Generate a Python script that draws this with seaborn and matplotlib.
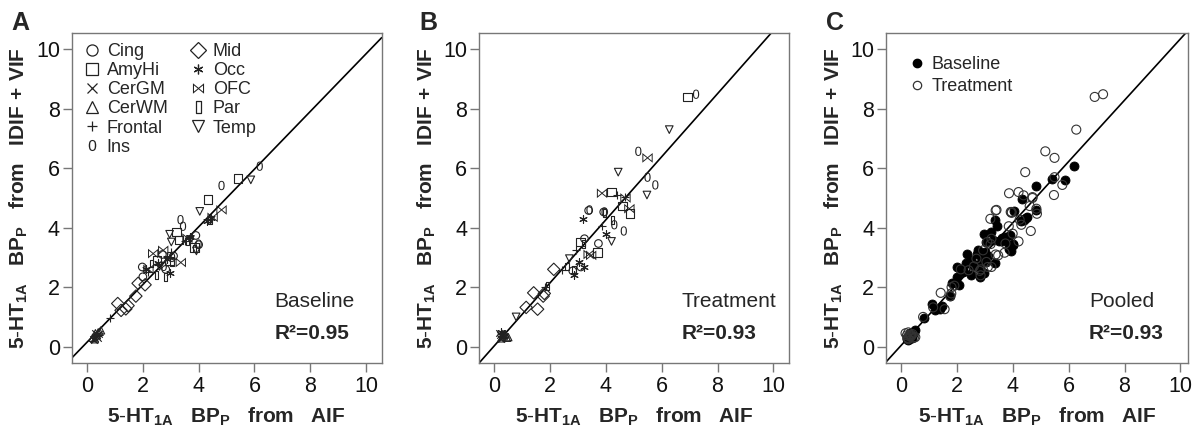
import numpy as np
import pandas as pd
import matplotlib
matplotlib.use("Agg")
import matplotlib.pyplot as plt
import seaborn as sns
from matplotlib.lines import Line2D
from matplotlib.path import Path

# ---------------- data ----------------
regions = ["Cing", "AmyHi", "CerGM", "CerWM", "Frontal", "Ins",
           "Mid", "Occ", "OFC", "Par", "Temp"]

# Baseline scans (panel A): region, BP_P from AIF, BP_P from IDIF+VIF
base_region = (["Cing"] * 7 + ["AmyHi"] * 7 + ["CerGM"] * 7 + ["CerWM"] * 7 +
               ["Frontal"] * 7 + ["Ins"] * 7 + ["Mid"] * 7 + ["Occ"] * 7 +
               ["OFC"] * 7 + ["Par"] * 7 + ["Temp"] * 7)
base_aif = [1.98, 2.00, 2.70, 2.82, 3.10, 3.90, 4.00,
            2.50, 2.95, 3.20, 3.30, 3.86, 4.34, 5.41,
            0.22, 0.25, 0.28, 0.30, 0.35, 0.38, 0.42,
            0.20, 0.28, 0.30, 0.35, 0.40, 0.45, 0.50,
            0.81, 2.20, 2.55, 2.85, 3.00, 3.50, 4.40,
            2.75, 3.05, 3.35, 3.44, 4.00, 4.82, 6.19,
            1.10, 1.22, 1.39, 1.47, 1.75, 1.83, 2.08,
            2.10, 2.55, 2.88, 2.96, 3.70, 4.30, 4.45,
            2.20, 2.37, 2.73, 3.36, 3.60, 4.50, 4.82,
            2.30, 2.49, 2.82, 3.05, 3.60, 3.85, 4.40,
            2.60, 2.96, 3.02, 3.70, 3.92, 4.04, 5.87]
base_idif = [2.68, 2.35, 3.10, 2.60, 3.05, 3.74, 3.43,
             2.92, 2.88, 3.85, 3.58, 3.34, 4.95, 5.65,
             0.25, 0.22, 0.30, 0.45, 0.38, 0.30, 0.42,
             0.30, 0.25, 0.45, 0.38, 0.48, 0.50, 0.55,
             0.98, 2.50, 2.75, 3.05, 3.20, 3.55, 4.30,
             2.70, 3.00, 4.27, 4.05, 3.45, 5.42, 6.07,
             1.45, 1.22, 1.27, 1.38, 1.70, 2.13, 2.08,
             2.62, 2.80, 2.96, 2.47, 3.68, 4.22, 4.32,
             2.60, 3.13, 3.24, 2.83, 3.65, 4.35, 4.60,
             2.80, 2.40, 2.35, 2.85, 3.55, 3.30, 4.25,
             2.70, 3.78, 3.52, 3.60, 3.22, 4.55, 5.61]

# Treatment scans (panel B)
treat_region = (["Cing"] * 6 + ["AmyHi"] * 6 + ["CerGM"] * 6 + ["CerWM"] * 6 +
                ["Frontal"] * 6 + ["Ins"] * 8 + ["Mid"] * 6 + ["Occ"] * 6 +
                ["OFC"] * 6 + ["Par"] * 6 + ["Temp"] * 6)
treat_aif = [2.81, 3.10, 3.23, 3.38, 3.73, 3.92,
             3.08, 3.70, 4.20, 4.60, 4.86, 6.93,
             0.15, 0.20, 0.22, 0.25, 0.30, 0.35,
             0.25, 0.30, 0.35, 0.40, 0.45, 0.50,
             1.80, 2.41, 2.93, 3.85, 4.38, 4.70,
             3.41, 3.95, 4.30, 4.64, 5.16, 5.49, 5.77, 7.23,
             1.14, 1.41, 1.55, 1.75, 1.79, 2.13,
             0.25, 2.84, 3.05, 3.19, 3.23, 3.99,
             3.38, 3.47, 3.86, 4.70, 4.84, 5.49,
             1.90, 2.60, 2.85, 3.20, 3.95, 4.24,
             0.78, 2.69, 4.20, 4.44, 5.47, 6.27]
treat_idif = [2.55, 2.68, 3.63, 4.58, 3.47, 4.53,
              3.52, 3.16, 5.20, 4.73, 4.47, 8.40,
              0.45, 0.38, 0.30, 0.25, 0.40, 0.35,
              0.28, 0.35, 0.40, 0.42, 0.30, 0.32,
              2.00, 2.57, 3.24, 4.05, 5.09, 5.03,
              4.60, 4.53, 4.10, 3.89, 6.57, 5.70, 5.44, 8.49,
              1.32, 1.81, 1.26, 1.70, 1.79, 2.60,
              0.48, 2.40, 2.85, 4.30, 2.68, 3.80,
              3.10, 3.07, 5.16, 5.00, 4.64, 6.35,
              2.05, 2.70, 2.60, 3.45, 4.50, 4.27,
              1.00, 2.96, 3.54, 5.87, 5.10, 7.30]

panel_names = ["Baseline", "Treatment", "Pooled"]
r2_values = [0.95, 0.93, 0.93]
fit_slope = [0.97, 1.06, 1.03]
fit_intercept = [0.15, 0.03, 0.05]
axis_ticks = [0, 2, 4, 6, 8, 10]

# ---------------- style ----------------
sns.set_theme(style="ticks")
plt.rcParams["font.family"] = ["Liberation Sans", "DejaVu Sans"]
plt.rcParams["mathtext.fontset"] = "custom"
plt.rcParams["mathtext.rm"] = "Liberation Sans"
plt.rcParams["mathtext.bf"] = "Liberation Sans:bold"
plt.rcParams["mathtext.it"] = "Liberation Sans:italic"

INK = "#222222"
FRAME = "#777777"

par_marker = Path([(-0.45, -1), (0.45, -1), (0.45, 1), (-0.45, 1), (-0.45, -1)],
                  [Path.MOVETO, Path.LINETO, Path.LINETO, Path.LINETO, Path.CLOSEPOLY])
marker_map = {"Cing": "o", "AmyHi": "s", "CerGM": "x", "CerWM": "^",
              "Frontal": "+", "Ins": "$0$", "Mid": "D", "Occ": (6, 2, 0),
              "OFC": r"$\bowtie$", "Par": par_marker, "Temp": "v"}
open_kind = {"Cing", "AmyHi", "CerWM", "Mid", "Par", "Temp"}
line_kind = {"CerGM", "Frontal", "Occ"}
size_map = {"Cing": 30, "AmyHi": 38, "CerGM": 22, "CerWM": 28, "Frontal": 30,
            "Ins": 45, "Mid": 40, "Occ": 30, "OFC": 55, "Par": 30, "Temp": 30}


def style_kw(reg):
    if reg in open_kind:
        return dict(facecolors="none", edgecolors=INK, linewidth=0.8)
    if reg in line_kind:
        return dict(color=INK, linewidth=0.8)
    return dict(color=INK, edgecolors="none", linewidth=0)


df_base = pd.DataFrame({"region": base_region, "aif": base_aif, "idif": base_idif})
df_treat = pd.DataFrame({"region": treat_region, "aif": treat_aif, "idif": treat_idif})

fig = plt.figure(figsize=(12, 4.37), dpi=100)
W, H = 1200, 437
ax_px = [(71.7, 381.7), (479, 789), (886, 1188)]
top_px, bot_px = 33, 363
px_per_unit = 27.9
axes = []
for (l, r) in ax_px:
    ax = fig.add_axes([l / W, 1 - bot_px / H, (r - l) / W, (bot_px - top_px) / H])
    axes.append(ax)


def draw_regions(ax, df):
    for reg in regions:
        sub = df[df["region"] == reg]
        sns.scatterplot(data=sub, x="aif", y="idif", marker=marker_map[reg],
                        s=size_map[reg], ax=ax, legend=False, zorder=3,
                        **style_kw(reg))


draw_regions(axes[0], df_base)
draw_regions(axes[1], df_treat)

df_pool = pd.concat([df_base.assign(scan="Baseline"), df_treat.assign(scan="Treatment")])
sns.scatterplot(data=df_pool[df_pool["scan"] == "Baseline"], x="aif", y="idif",
                marker="o", s=42, color="black", edgecolor="black", linewidth=0.6,
                ax=axes[2], legend=False, zorder=3)
sns.scatterplot(data=df_pool[df_pool["scan"] == "Treatment"], x="aif", y="idif",
                marker="o", s=42, facecolors="none", edgecolors="#333333", linewidth=0.8,
                ax=axes[2], legend=False, zorder=4)

letters = ["A", "B", "C"]
letter_px = [20, 428, 835]
for i, ax in enumerate(axes):
    l, r = ax_px[i]
    x0 = -0.55
    ax.set_xlim(x0, x0 + (r - l) / px_per_unit)
    ax.set_ylim(-0.55, 10.55)
    ax.axline((0, fit_intercept[i]), slope=fit_slope[i], color="black", lw=1.2, zorder=2)
    ax.set_xticks(axis_ticks)
    ax.set_yticks(axis_ticks)
    ax.tick_params(axis="both", which="major", labelsize=15.5, length=6.5, width=1,
                   color=FRAME, direction="out", labelcolor="#111111")
    ax.tick_params(axis="y", pad=2)
    ax.tick_params(axis="x", pad=3)
    for s in ax.spines.values():
        s.set_visible(True)
        s.set_color(FRAME)
        s.set_linewidth(1.0)
    ax.set_xlabel(r"$\mathbf{5\text{-}HT_{1A}\ \ \ BP_{P}\ \ \ from\ \ \ AIF}$",
                  fontsize=15, labelpad=6)
    ax.set_ylabel(r"$\mathbf{5\text{-}HT_{1A}\ \ \ BP_{P}\ \ \ from\ \ \ IDIF\,+\,VIF}$",
                  fontsize=15, labelpad=4)
    ax.text(6.72, 1.53, panel_names[i], fontsize=15, ha="left", va="center")
    ax.text(6.72, 0.45, f"R²={r2_values[i]:.2f}", fontsize=15, fontweight="bold",
            ha="left", va="center")
    fig.text(letter_px[i] / W, 1 - 23 / H, letters[i], fontsize=18, fontweight="bold",
             ha="center", va="center")

# region legend (panel A)
handles = []
for reg in regions:
    if reg in open_kind:
        h = Line2D([], [], linestyle="none", marker=marker_map[reg], markersize=8,
                   markerfacecolor="none", markeredgecolor=INK, markeredgewidth=0.9)
    elif reg in line_kind:
        h = Line2D([], [], linestyle="none", marker=marker_map[reg], markersize=7,
                   color=INK, markeredgewidth=0.9)
    else:
        h = Line2D([], [], linestyle="none", marker=marker_map[reg], markersize=8,
                   markerfacecolor=INK, markeredgecolor="none")
    handles.append(h)
axes[0].legend(handles, regions, ncol=2, loc="upper left", bbox_to_anchor=(0.005, 1.0),
               frameon=False, fontsize=13, handlelength=1.0, handletextpad=0.3,
               labelspacing=0.12, columnspacing=1.2, borderaxespad=0.15)

# scan legend (panel C)
h_base = Line2D([], [], linestyle="none", marker="o", markersize=6,
                markerfacecolor="black", markeredgecolor="black")
h_treat = Line2D([], [], linestyle="none", marker="o", markersize=6,
                 markerfacecolor="none", markeredgecolor="#333333", markeredgewidth=0.9)
axes[2].legend([h_base, h_treat], ["Baseline", "Treatment"], loc="upper left",
               bbox_to_anchor=(0.02, 0.98), frameon=False, fontsize=13,
               handlelength=1.0, handletextpad=0.3, labelspacing=0.3)

fig.savefig("out.png", dpi=100)
